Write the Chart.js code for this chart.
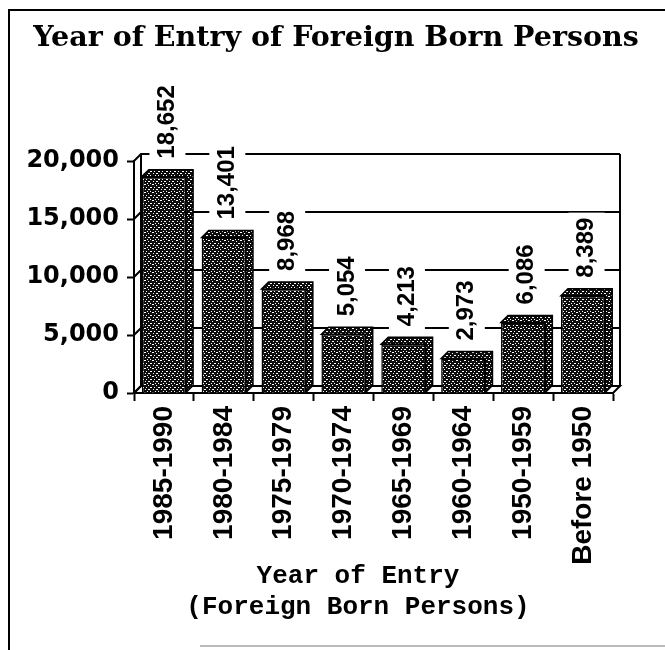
<!DOCTYPE html>
<html><head><meta charset="utf-8">
<script src="https://cdn.jsdelivr.net/npm/chart.js@4.4.1/dist/chart.umd.min.js"></script>
<style>html,body{margin:0;padding:0;background:#fff;}#wrap{width:665px;height:650px;position:relative;}canvas{display:block;}</style>
</head><body><div id="wrap"><canvas id="c" width="665" height="650"></canvas></div>
<script>
const categories = ['1985-1990','1980-1984','1975-1979','1970-1974','1965-1969','1960-1964','1950-1959','Before 1950'];
const persons = [18652, 13401, 8968, 5054, 4213, 2973, 6086, 8389];
const yTicks = [0, 5000, 10000, 15000, 20000];
const chartTitle = 'Year of Entry of Foreign Born Persons';
const xTitle = ['Year of Entry', '(Foreign Born Persons)'];

const canvas = document.getElementById('c');
const ctx0 = canvas.getContext('2d');
function makePattern() {
  const p = document.createElement('canvas'); p.width = 8; p.height = 8;
  const g = p.getContext('2d');
  g.fillStyle = '#0d0d0d'; g.fillRect(0, 0, 8, 8);
  g.fillStyle = '#fff';
  [[0,0,2,1],[4,1,1,1],[6,3,2,1],[2,3,1,1],[1,5,1,1],[4,5,2,1],[6,7,1,1],[3,7,1,1]].forEach(r => g.fillRect(r[0], r[1], r[2], r[3]));
  return ctx0.createPattern(p, 'repeat');
}
const stipple = makePattern();
const DX = 7, DY = 7;

const depthPlugin = {
  id: 'depth',
  beforeDatasetsDraw(chart) {
    const {ctx, chartArea: a, scales: {y}} = chart;
    const B = y.getPixelForValue(0), T = y.getPixelForValue(yTicks[yTicks.length - 1]);
    ctx.save();
    ctx.lineWidth = 2; ctx.strokeStyle = '#000';
    ctx.beginPath();
    ctx.moveTo(a.left, B); ctx.lineTo(a.left + DX, B - DY); ctx.lineTo(a.right + DX, B - DY); ctx.lineTo(a.right, B); ctx.closePath();
    ctx.fillStyle = '#fff'; ctx.fill(); ctx.stroke();
    ctx.beginPath();
    ctx.moveTo(a.left + DX, T - DY); ctx.lineTo(a.left + DX, B - DY);
    ctx.moveTo(a.right + DX, T - DY); ctx.lineTo(a.right + DX, B - DY);
    ctx.stroke();
    yTicks.forEach(v => {
      const py = y.getPixelForValue(v);
      ctx.beginPath();
      ctx.moveTo(a.left, py); ctx.lineTo(a.left + DX, py - DY);
      if (v !== 0) ctx.lineTo(a.right + DX, py - DY);
      ctx.stroke();
    });
    const meta = chart.getDatasetMeta(0);
    meta.data.forEach(el => {
      const p = el.getProps(['x','y','base','width'], true);
      const l = p.x - p.width / 2, r = p.x + p.width / 2;
      ctx.beginPath();
      ctx.moveTo(l, p.y); ctx.lineTo(l + DX, p.y - DY); ctx.lineTo(r + DX, p.y - DY);
      ctx.lineTo(r + DX, p.base - DY); ctx.lineTo(r, p.base); ctx.lineTo(r, p.y); ctx.closePath();
      ctx.fillStyle = stipple; ctx.fill();
      ctx.lineWidth = 1.5; ctx.stroke();
    });
    ctx.restore();
  },
  afterDatasetsDraw(chart) {
    const {ctx} = chart;
    const meta = chart.getDatasetMeta(0);
    ctx.save();
    ctx.font = 'bold 24px "Liberation Sans"';
    meta.data.forEach((el, i) => {
      const p = el.getProps(['x','y'], true);
      const txt = persons[i].toLocaleString('en-US');
      const w = ctx.measureText(txt).width;
      ctx.save();
      ctx.translate(p.x + DX / 2, p.y - DY - 11);
      ctx.rotate(-Math.PI / 2);
      ctx.fillStyle = '#fff';
      ctx.fillRect(-5, -18, w + 10, 36);
      ctx.fillStyle = '#000';
      ctx.textAlign = 'left'; ctx.textBaseline = 'middle';
      ctx.fillText(txt, 0, 0);
      ctx.restore();
    });
    ctx.restore();
  },
  afterDraw(chart) {
    const {ctx} = chart;
    ctx.save();
    ctx.fillStyle = '#000';
    ctx.textAlign = 'center'; ctx.textBaseline = 'alphabetic';
    ctx.font = 'bold 28.5px "DejaVu Serif"';
    ctx.fillText(chartTitle, 336, 46);
    ctx.font = 'bold 26px "Liberation Mono"';
    ctx.fillText(xTitle[0], 358, 583);
    ctx.fillText(xTitle[1], 358, 614);
    ctx.strokeStyle = '#000'; ctx.lineWidth = 2;
    ctx.beginPath(); ctx.moveTo(9, 650); ctx.lineTo(9, 10); ctx.lineTo(665, 10); ctx.stroke();
    ctx.strokeStyle = '#bbb'; ctx.lineWidth = 2;
    ctx.beginPath(); ctx.moveTo(200, 646); ctx.lineTo(665, 646); ctx.stroke();
    ctx.restore();
  }
};

new Chart(canvas, {
  type: 'bar',
  data: {
    labels: categories,
    datasets: [{
      data: persons,
      backgroundColor: stipple,
      borderColor: '#000',
      borderWidth: 1.5,
      barPercentage: 0.74,
      categoryPercentage: 1.0
    }]
  },
  options: {
    responsive: false,
    animation: false,
    devicePixelRatio: 1,
    layout: {padding: {top: 161, left: 10, right: 52, bottom: 72}},
    plugins: {legend: {display: false}, title: {display: false}, tooltip: {enabled: false}},
    scales: {
      x: {
        offset: true,
        grid: {display: true, drawOnChartArea: false, drawTicks: true, tickLength: 8, tickColor: '#000', tickWidth: 2, offset: true},
        border: {display: true, color: '#000', width: 2},
        ticks: {color: '#000', font: {family: 'Liberation Sans', weight: 'bold', size: 28}, minRotation: 90, maxRotation: 90, autoSkip: false, padding: 5},
        afterFit(s) { s.height = 185; }
      },
      y: {
        min: 0, max: 20000,
        afterBuildTicks(s) { s.ticks = yTicks.map(v => ({value: v})); },
        grid: {display: true, drawOnChartArea: false, drawTicks: true, tickLength: 7, tickColor: '#000', tickWidth: 2},
        border: {display: true, color: '#000', width: 2},
        ticks: {color: '#000', font: {family: 'DejaVu Sans', weight: 'bold', size: 24}, padding: 8, callback: v => v.toLocaleString('en-US')},
        afterFit(s) { s.width = 124; }
      }
    }
  },
  plugins: [depthPlugin]
});
</script></body></html>
